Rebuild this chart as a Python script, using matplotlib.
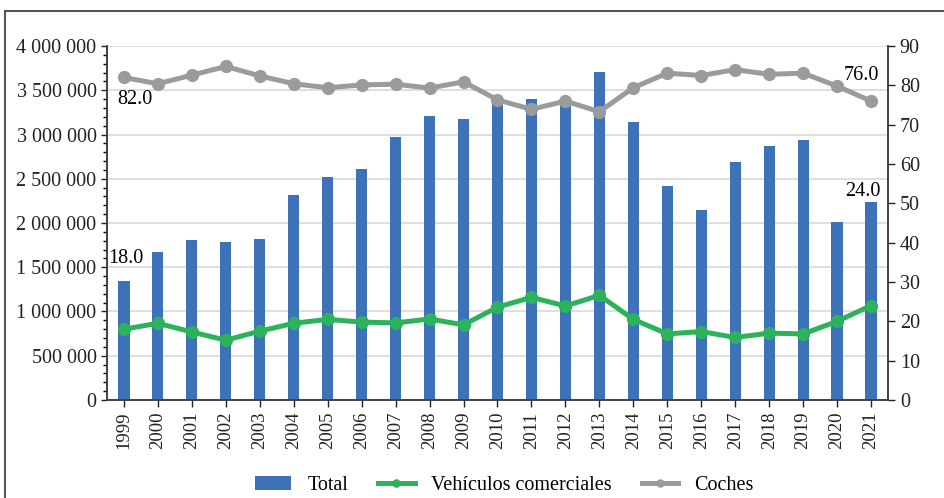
import numpy as np
import matplotlib.pyplot as plt
from matplotlib.ticker import MultipleLocator, FuncFormatter
from matplotlib.patches import Rectangle

# ---- data ----
years = [str(y) for y in range(1999, 2022)]
total = [1346000, 1673000, 1808000, 1786000, 1820000, 2312000, 2523000, 2605000,
         2970000, 3207000, 3177000, 3400000, 3402000, 3375000, 3703000, 3139000,
         2421000, 2147000, 2692000, 2872000, 2936000, 2008000, 2241000]
comerciales = [18.0, 19.5, 17.3, 15.2, 17.5, 19.5, 20.5, 19.8, 19.6, 20.6, 19.1,
               23.6, 26.1, 23.9, 26.6, 20.5, 16.8, 17.4, 15.9, 17.0, 16.8, 20.0, 24.0]
coches = [82.0, 80.4, 82.6, 84.8, 82.4, 80.4, 79.4, 80.1, 80.3, 79.3, 80.9,
          76.3, 73.9, 76.0, 73.3, 79.4, 83.1, 82.5, 84.0, 82.8, 83.1, 79.8, 76.0]

plt.rcParams['font.family'] = ['Liberation Serif', 'DejaVu Serif']

fig = plt.figure(figsize=(9.44, 4.98), dpi=100)
ax = fig.add_axes([0.1133, 0.1968, 0.8274, 0.7108])
ax2 = ax.twinx()

x = np.arange(len(years))
ax.bar(x, total, width=0.33, color='#3D72B9', zorder=2, label='Total')
ax.set_ylim(0, 4000000)
ax.set_xlim(-0.5, len(years) - 0.5)
ax.yaxis.set_major_locator(MultipleLocator(500000))
ax.yaxis.set_minor_locator(MultipleLocator(100000))
ax.yaxis.set_major_formatter(FuncFormatter(lambda v, p: f"{int(v):,}".replace(",", " ")))
ax.grid(axis='y', color='#d9d9d9', lw=1.2, zorder=0)
ax.set_axisbelow(True)
ax.set_xticks(x)
ax.set_xticklabels(years, rotation=90, fontsize=13.5)
ax.tick_params(axis='y', labelsize=14.5, colors='#222222', direction='out', length=4, width=1)
ax.tick_params(axis='y', which='minor', direction='out', length=3, width=1)
ax.tick_params(axis='x', direction='out', length=5, width=1, colors='#222222')

green = '#2CB25A'
grey = '#9A9C9C'
ax2.plot(x, comerciales, color=green, lw=3.6, marker='o', ms=8.5, label='Vehículos comerciales', zorder=3)
ax2.plot(x, coches, color=grey, lw=3.6, marker='o', ms=8.5, label='Coches', zorder=3)
ax2.set_ylim(0, 90)
ax2.yaxis.set_major_locator(MultipleLocator(10))
ax2.tick_params(axis='y', labelsize=14.5, colors='#222222', direction='out', length=5, width=1)

for a in (ax, ax2):
    a.spines['top'].set_visible(False)
    for s in ('left', 'right', 'bottom'):
        a.spines[s].set_color('#404040')
        a.spines[s].set_linewidth(1.2)

# data labels
ax2.text(0.32, 76.5, f"{coches[0]:.1f}", ha='center', va='center', fontsize=14.5)
ax2.text(0.05, 35.9, f"{comerciales[0]:.1f}", ha='center', va='center', fontsize=14.5)
ax2.text(21.72, 82.6, f"{coches[-1]:.1f}", ha='center', va='center', fontsize=14.5)
ax2.text(21.76, 53.0, f"{comerciales[-1]:.1f}", ha='center', va='center', fontsize=14.5)

h1, l1 = ax.get_legend_handles_labels()
h2, l2 = ax2.get_legend_handles_labels()
fig.legend(h1 + h2, l1 + l2, loc='center', bbox_to_anchor=(0.534, 0.025), ncol=3,
           frameon=False, fontsize=14.5, handlelength=1.8, columnspacing=1.5,
           markerscale=0.6)

fig.add_artist(Rectangle((0.0053, -0.1), 1.1, 1.078, transform=fig.transFigure,
                         fill=False, edgecolor='#555555', lw=1.5, clip_on=False))

fig.savefig('out.png', dpi=100)
